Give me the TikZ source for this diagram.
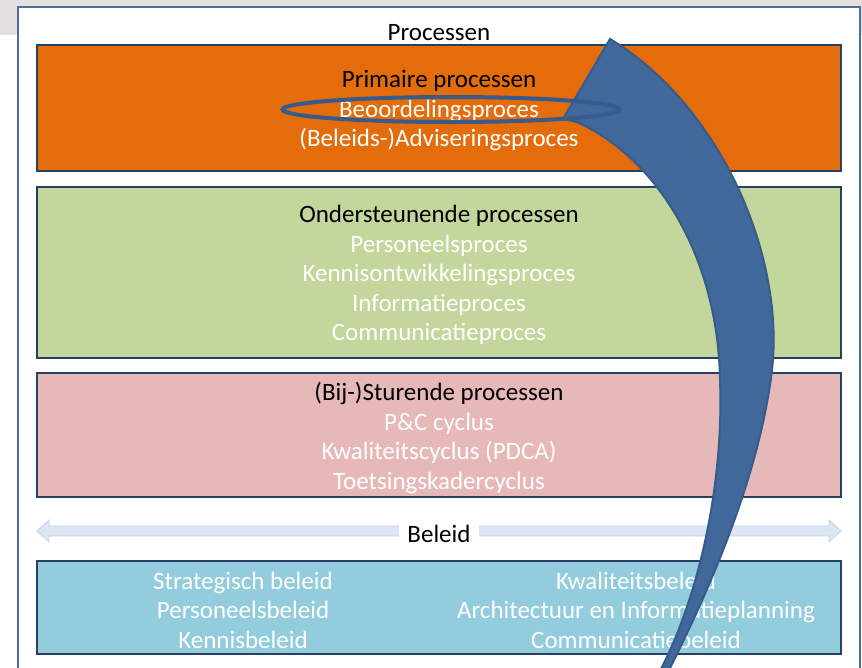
\documentclass[tikz,border=0pt]{standalone}
\usepackage{fontspec}
\setmainfont{Carlito}
\usetikzlibrary{shapes.geometric,positioning}
\definecolor{bggrey}{HTML}{E4E0DD}
\definecolor{framebl}{HTML}{4A70A2}
\definecolor{boxline}{HTML}{263F63}
\definecolor{prim}{HTML}{E46C0A}
\definecolor{onder}{HTML}{C3D69B}
\definecolor{stuur}{HTML}{E6B9B8}
\definecolor{beleid}{HTML}{93CDDD}
\definecolor{pijl}{HTML}{41689A}
\definecolor{pijlrand}{HTML}{375B8A}
\definecolor{balkvul}{HTML}{DCE6F2}
\definecolor{balkrand}{HTML}{C3D4EA}
\newcommand{\wt}[1]{\textcolor{white}{#1}}

\begin{document}
\begin{tikzpicture}[x=1pt,y=-1pt,
		procbox/.style={draw=boxline,line width=2pt,minimum width=804pt,inner sep=0pt},
		boxtext/.style={align=center,font=\fontsize{25}{29.5}\selectfont,inner sep=0pt}]
		\useasboundingbox (0,0) rectangle (862,667);
		% achtergrond en kader
		\fill[bggrey] (0,0) rectangle (862,35);
		\draw[framebl,line width=2.5pt,fill=white] (18,7) rectangle (860,700);
		\node[boxtext] (processen) at (439,33) {Processen};
		% de drie procesblokken
		\node[procbox,fill=prim,minimum height=126pt] (primair) at (439,108) {};
		\node[boxtext] (primairtekst) at ([yshift=-3pt]primair.center)
			{Primaire processen\\ \wt{Beoordelingsproces}\\ \wt{(Beleids-)Adviseringsproces}};
		\node[procbox,fill=onder,minimum height=171pt] (onderst) at (439,272) {};
		\node[boxtext] (onderstekst) at ([yshift=-3pt]onderst.center)
			{Ondersteunende processen\\ \wt{Personeelsproces}\\ \wt{Kennisontwikkelingsproces}\\
			\wt{Informatieproces}\\ \wt{Communicatieproces}};
		\node[procbox,fill=stuur,minimum height=124pt] (sturend) at (439,435) {};
		\node[boxtext] (sturendtekst) at ([yshift=-3pt]sturend.center)
			{(Bij-)Sturende processen\\ \wt{P\&C cyclus}\\ \wt{Kwaliteitscyclus (PDCA)}\\
			\wt{Toetsingskadercyclus}};
		% beleid balk
		\filldraw[fill=balkvul,draw=balkrand,line width=0.8pt] (37,531) -- (49,520) -- (49,526)
			-- (829,526) -- (829,520) -- (841,531) -- (829,542) -- (829,536)
			-- (49,536) -- (49,542) -- cycle;
		\node[boxtext,fill=white,inner xsep=8pt,inner ysep=2pt] (beleidlabel) at (439,534) {Beleid};
		\node[procbox,fill=beleid,minimum height=93pt] (beleidblok) at (439,607.5) {};
		\node[boxtext,text=white] (beleidL) at (243,610)
			{Strategisch beleid\\ Personeelsbeleid\\ Kennisbeleid};
		\node[boxtext,text=white] (beleidR) at (636,610)
			{Kwaliteitsbeleid\\ Architectuur en Informatieplanning\\ Communicatiebeleid};
		% grote gebogen pijl
		\filldraw[fill=pijl,draw=pijlrand,line width=2pt]
			(610,39) .. controls (720,105) and (785,255) .. (772,370)
			.. controls (760,470) and (715,580) .. (664,680)
			-- (655,680)
			.. controls (700,600) and (724,480) .. (720,380)
			.. controls (718,260) and (660,160) .. (577,122)
			-- (563,119) -- cycle;
		\node[ellipse,draw=pijlrand,line width=4pt,minimum width=337pt,minimum height=25pt,
			inner sep=0pt] (kring) at (451,109.5) {};
		\end{tikzpicture}
\end{document}
